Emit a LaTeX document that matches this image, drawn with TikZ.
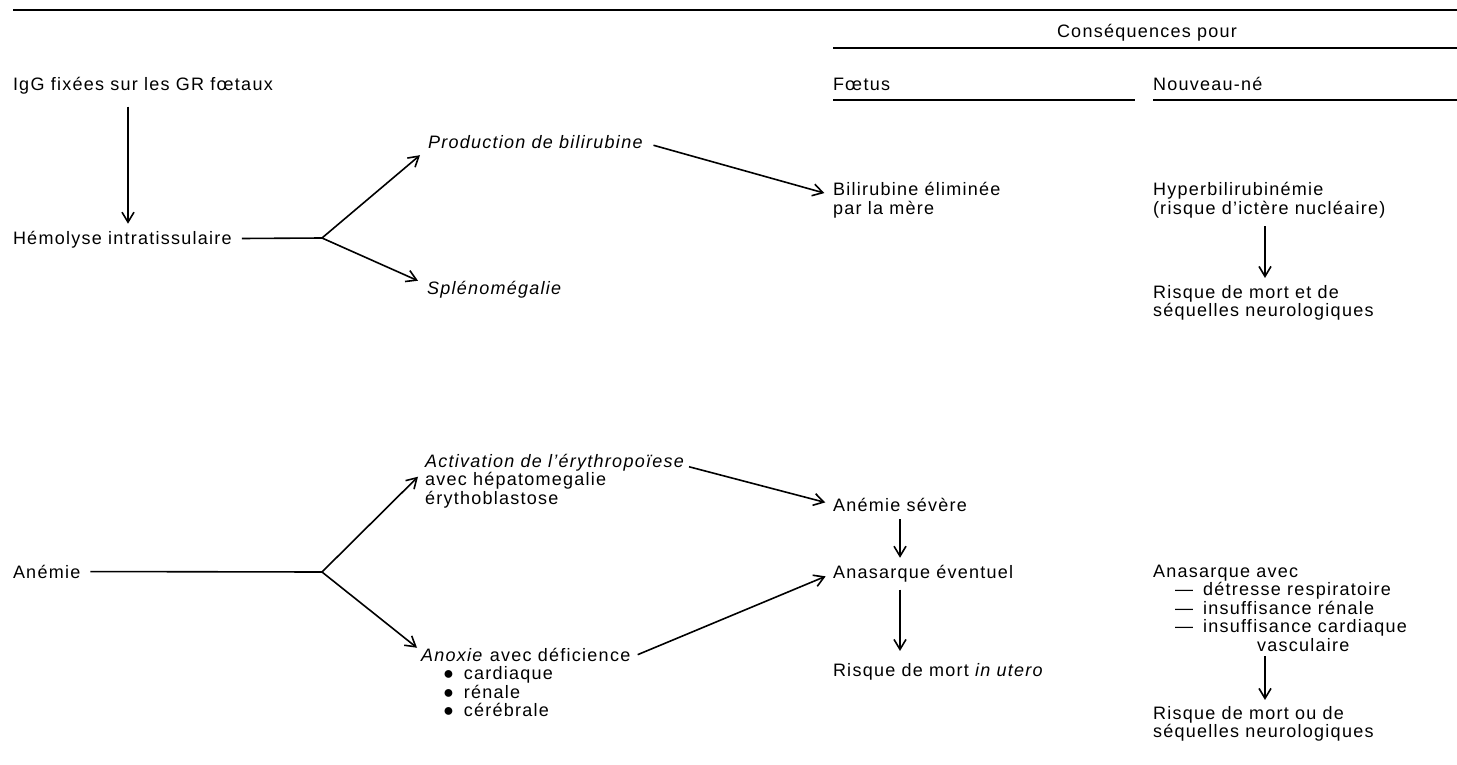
\documentclass[tikz,border=0pt]{standalone}
\usepackage{fontspec}
\setmainfont{Liberation Sans}[LetterSpace=7]
\usetikzlibrary{arrows.meta,calc}
\tikzset{
  >={Straight Barb[length=10pt,width=12pt]},
  every node/.style={font=\fontsize{18}{18.5}\selectfont,inner sep=0pt,outer sep=0pt},
  txt/.style={anchor=base west,align=left},
  hd/.style={anchor=base},
  rule/.style={line width=1.5pt},
  link/.style={line width=1.6pt,shorten <=10pt},
  branch/.style={->,line width=1.6pt},
  flow/.style={->,line width=1.6pt,shorten <=8pt,shorten >=7pt},
}

\begin{document}
\begin{tikzpicture}[x=1pt,y=1pt]
  \useasboundingbox (0,0) rectangle (1457,-765);

  % rules and column heads
  \draw[rule] (13,-10) -- (1457,-10);
  \node[hd] (csq) at (1147,-38) {Conséquences pour};
  \draw[rule] (833,-48) -- (1457,-48);
  \node[txt] (fts) at (833,-91) {Fœtus};
  \node[txt] (nvn) at (1153,-91) {Nouveau-né};
  \draw[rule] (833,-100) -- (1135,-100);
  \draw[rule] (1153,-100) -- (1457,-100);

  % upper chain: hemolysis (multi-line nodes sit on their last line)
  \node[txt] (igg)  at (13,-91)   {IgG fixées sur les GR fœtaux};
  \node[txt] (hemo) at (13,-244)  {Hémolyse intratissulaire};
  \coordinate (f1) at (322,-238);
  \node[txt] (prod) at (428,-149) {\textit{Production de bilirubine}};
  \node[txt] (splen) at (427,-294) {\textit{Splénomégalie}};
  \node[txt] (bili) at (833,-214.5) {Bilirubine éliminée\\par la mère};
  \node[txt] (hyper) at (1153,-214.5) {Hyperbilirubinémie\\(risque d’ictère nucléaire)};
  \node[txt] (risk1) at (1153,-316.5) {Risque de mort et de\\séquelles neurologiques};

  % lower chain: anaemia
  \node[txt] (anem) at (13,-578)   {Anémie};
  \coordinate (f2) at (322,-572);
  \node[txt] (activ) at (425,-504) {\textit{Activation de l’érythropoïese}\\avec hépatomegalie\\érythoblastose};
  \node[txt] (anox) at (421,-716.5)  {\textit{Anoxie} avec déficience\\
    \hspace*{22pt}●\hspace*{10pt}cardiaque\\
    \hspace*{22pt}●\hspace*{10pt}rénale\\
    \hspace*{22pt}●\hspace*{10pt}cérébrale};
  \node[txt] (sev)   at (833,-511)  {Anémie sévère};
  \node[txt] (anas)  at (833,-578)  {Anasarque éventuel};
  \node[txt] (utero) at (833,-676)  {Risque de mort \textit{in utero}};
  \node[txt] (anav)  at (1153,-651) {Anasarque avec\\
    \hspace*{22pt}—\hspace*{10pt}détresse respiratoire\\
    \hspace*{22pt}—\hspace*{10pt}insuffisance rénale\\
    \hspace*{22pt}—\hspace*{10pt}insuffisance cardiaque\\
    \hspace*{104pt}vasculaire};
  \node[txt] (risk2) at (1153,-737.5) {Risque de mort ou de\\séquelles neurologiques};

  % connectors, upper part
  \draw[flow,shorten <=12pt] ([xshift=115pt]igg.south west) -- ([xshift=115pt]hemo.north west);
  \draw[link] (hemo) -- (f1);
  \draw[branch] (f1) -- ([xshift=-8pt,yshift=-6pt]prod.south west);
  \draw[branch] (f1) -- ([xshift=-9pt]splen.north west);
  \draw[flow,shorten <=10pt,shorten >=9pt] (prod.east) -- ([yshift=5pt]bili.west);
  \draw[flow] ([xshift=112pt]hyper.south west) -- ([xshift=112pt]risk1.north west);

  % connectors, lower part
  \draw[link] (anem) -- (f2);
  \draw[branch] (f2) -- ([xshift=-7pt,yshift=4pt]activ.west);
  \draw[branch] (f2) -- ([xshift=-4pt]anox.north west);
  \draw[flow,shorten <=4pt,shorten >=8pt] ([yshift=-12pt]activ.north east) -- (sev.west);
  \draw[flow,shorten <=8pt,shorten >=8pt] ([yshift=-10pt]anox.north east) -- (anas.west);
  \draw[flow] ([xshift=67pt]sev.south west) -- ([xshift=67pt]anas.north west);
  \draw[flow,shorten >=12pt] ([xshift=67pt]anas.south west) -- ([xshift=67pt]utero.north west);
  \draw[flow,shorten <=5pt,shorten >=6pt] ([xshift=112pt]anav.south west) -- ([xshift=112pt]risk2.north west);
\end{tikzpicture}
\end{document}
